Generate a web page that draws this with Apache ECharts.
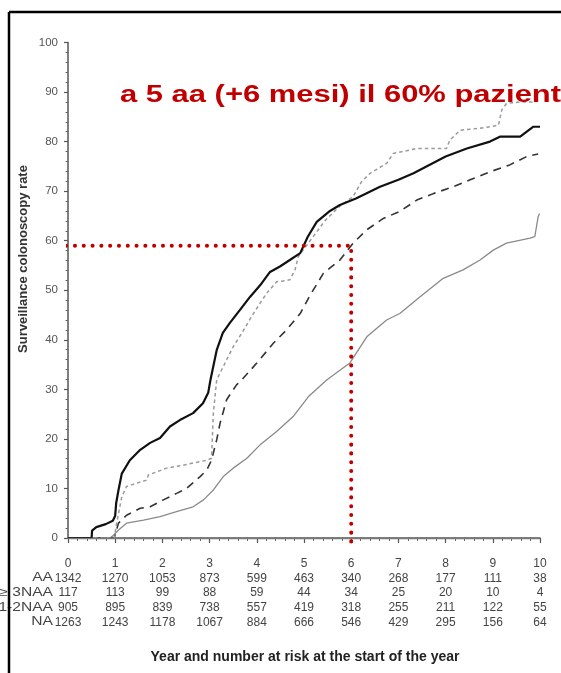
<!DOCTYPE html>
<html>
<head>
<meta charset="utf-8">
<script src="https://cdn.jsdelivr.net/npm/echarts@6/dist/echarts.min.js"></script>
<style>
  html, body { margin: 0; padding: 0; background: #fff; }
  #chart { width: 561px; height: 673px; }
</style>
</head>
<body>
<div id="chart"></div>
<script>
// ---- data ----
const yearTicks = [0, 1, 2, 3, 4, 5, 6, 7, 8, 9, 10];
const groupLabels = ['AA', '\u2265 3NAA', '1-2NAA', 'NA'];
const riskAA    = [1342, 1270, 1053, 873, 599, 463, 340, 268, 177, 111, 38];
const risk3NAA  = [117, 113, 99, 88, 59, 44, 34, 25, 20, 10, 4];
const risk12NAA = [905, 895, 839, 738, 557, 419, 318, 255, 211, 122, 55];
const riskNA    = [1263, 1243, 1178, 1067, 884, 666, 546, 429, 295, 156, 64];

const aaT = [0, 0.5, 0.51, 0.6, 0.8, 0.95, 1.0, 1.02, 1.07, 1.14, 1.31, 1.53, 1.74, 1.95, 2.16, 2.37, 2.65, 2.86, 2.97, 3.02, 3.15, 3.28, 3.43, 3.64, 3.86, 4.07, 4.28, 4.49, 4.70, 4.92, 5.08, 5.27, 5.55, 5.76, 6.1, 6.61, 7.0, 7.32, 8.0, 8.45, 8.94, 9.15, 9.58, 9.72, 9.86, 10.0];
const aaV = [0, 0, 1.5, 2.2, 2.8, 3.5, 4.5, 7, 9.7, 13, 15.7, 17.8, 19.2, 20.2, 22.5, 23.8, 25.2, 27.2, 29.3, 32, 37.9, 41.4, 43.4, 46, 48.7, 51, 53.7, 54.8, 56.1, 57.5, 60.8, 63.8, 66, 67.2, 68.5, 70.9, 72.3, 73.6, 77, 78.6, 80, 81, 81, 82, 83, 83];

const n3T = [0, 0.98, 1.03, 1.14, 1.24, 1.67, 1.7, 2.09, 2.44, 2.94, 3.04, 3.08, 3.15, 3.29, 3.5, 3.68, 3.89, 4.07, 4.21, 4.42, 4.7, 4.81, 4.88, 5.13, 5.44, 5.76, 6.04, 6.22, 6.4, 6.75, 6.89, 7.39, 8.02, 8.09, 8.31, 8.73, 9.12, 9.19, 9.29, 9.58, 9.86];
const n3V = [0, 0, 3, 8.3, 10.4, 11.7, 12.7, 14.1, 14.7, 15.7, 16.1, 25.2, 31.9, 34.6, 38.6, 41.3, 44.7, 47.4, 49.4, 51.7, 52.1, 54.1, 56.8, 60, 64, 67, 68.9, 71.9, 73.6, 75.6, 77.6, 78.6, 78.6, 80.3, 82.3, 82.7, 83.3, 86.4, 87.7, 88, 88];

const n12T = [0, 0.98, 1.07, 1.24, 1.53, 1.74, 2.02, 2.3, 2.51, 2.8, 2.94, 3.04, 3.15, 3.22, 3.36, 3.57, 3.68, 4.0, 4.35, 4.63, 4.92, 5.13, 5.41, 5.76, 6.04, 6.33, 6.68, 7.03, 7.39, 7.74, 8.16, 8.52, 8.94, 9.36, 9.72, 9.96];
const n12V = [0, 0, 3, 4.6, 6, 6.3, 7.7, 9, 10, 12.4, 13.7, 15.7, 19.8, 23.1, 27.9, 30.9, 31.9, 35.3, 39.3, 42, 45.3, 49, 53.4, 56.1, 59.5, 62.2, 64.5, 65.9, 68.2, 69.5, 70.9, 72.3, 73.9, 75.3, 77, 77.5];

const naT = [0, 0.89, 0.97, 1.07, 1.24, 1.6, 1.95, 2.3, 2.65, 2.87, 3.08, 3.29, 3.5, 3.79, 4.07, 4.42, 4.77, 5.09, 5.48, 5.97, 6.33, 6.75, 7.03, 7.46, 7.95, 8.37, 8.73, 9.01, 9.29, 9.79, 9.89, 9.96, 9.99];
const naV = [0, 0, 0.6, 1.6, 3, 3.6, 4.3, 5.3, 6.3, 7.7, 9.7, 12.4, 14.1, 16.1, 18.8, 21.5, 24.5, 28.5, 31.9, 35.3, 40.6, 44, 45.3, 48.7, 52.4, 54.1, 56.1, 58.1, 59.5, 60.5, 60.8, 64.8, 65.5];

const guideT = [-0.04, 6, 6];
const guideV = [59, 59, -1];

const annotation = 'a 5 aa (+6 mesi) il 60% pazienti';
const yTitle = 'Surveillance colonoscopy rate';
const xTitle = 'Year and number at risk at the start of the year';

// ---- chart ----
const zip = (t, v) => t.map((x, i) => [x, v[i]]);
const FONT = '"Liberation Sans", Arial, sans-serif';

const chart = echarts.init(document.getElementById('chart'), null, { renderer: 'canvas' });

const rowY = [578, 592.7, 607.4, 622];
const graphics = [
  { type: 'line', z: 200, shape: { x1: 9, y1: 12, x2: 561, y2: 12 }, style: { stroke: '#000', lineWidth: 2.5 } },
  { type: 'line', z: 200, shape: { x1: 9, y1: 12, x2: 9, y2: 673 }, style: { stroke: '#000', lineWidth: 2.5 } },
  { type: 'rect', z: 150, shape: { x: 548, y: 548, width: 13, height: 90 }, style: { fill: '#fff' } },
  { type: 'text', z: 160, x: 120, y: 95.5, scaleX: 1.345,
    style: { text: annotation, font: 'bold 23px ' + FONT, fill: '#c00000', align: 'left', verticalAlign: 'middle' } },
  { type: 'text', z: 160, x: 23.5, y: 259, rotation: Math.PI / 2,
    style: { text: yTitle, font: 'bold 13px ' + FONT, fill: '#333', align: 'center', verticalAlign: 'middle' } },
  { type: 'text', z: 160, x: 305, y: 657,
    style: { text: xTitle, font: 'bold 14px ' + FONT, fill: '#222', align: 'center', verticalAlign: 'middle' } }
];
groupLabels.forEach((lab, i) => {
  graphics.push({ type: 'text', z: 160, x: 53, y: rowY[i], scaleX: 1.3,
    style: { text: lab, font: '12px ' + FONT, fill: '#444', align: 'right', verticalAlign: 'middle' } });
});

const option = {
  animation: false,
  backgroundColor: '#fff',
  grid: { left: 68, right: 21, top: 42.5, bottom: 135, containLabel: false },
  xAxis: {
    type: 'value', min: 0, max: 10, interval: 1, offset: 5,
    axisLine: { show: true, lineStyle: { color: '#555', width: 1.5 } },
    axisTick: { show: true, length: 5, lineStyle: { color: '#555', width: 1.2 } },
    minorTick: { show: true, splitNumber: 5, length: 3, lineStyle: { color: '#666', width: 1 } },
    splitLine: { show: false },
    axisLabel: {
      margin: 13, fontFamily: FONT, fontSize: 12, color: '#444', lineHeight: 14.8,
      formatter: (v) => {
        const i = yearTicks.indexOf(Math.round(v));
        return [String(yearTicks[i]), riskAA[i], risk3NAA[i], risk12NAA[i], riskNA[i]].join('\n');
      }
    }
  },
  yAxis: {
    type: 'value', min: 0, max: 100, interval: 10, offset: 3,
    axisLine: { show: true, lineStyle: { color: '#555', width: 1.5 } },
    axisTick: { show: true, length: 4, lineStyle: { color: '#555', width: 1.2 } },
    minorTick: { show: true, splitNumber: 5, length: 2.5, lineStyle: { color: '#666', width: 1 } },
    splitLine: { show: false },
    axisLabel: { margin: 7, fontFamily: FONT, fontSize: 11.5, color: '#555' }
  },
  series: [
    {
      name: 'NA', type: 'line', data: zip(naT, naV), showSymbol: false, symbol: 'none',
      lineStyle: { color: '#8a8a8a', width: 1.3 },
      markLine: {
        silent: true, symbol: ['none', 'none'], label: { show: false },
        lineStyle: { color: '#7a7a7a', width: 1.4, type: 'solid' },
        data: [{ yAxis: 0 }]
      }
    },
    {
      name: '1-2NAA', type: 'line', data: zip(n12T, n12V), symbol: 'none',
      lineStyle: { color: '#333', width: 1.6, type: [8, 6] }
    },
    {
      name: '>=3NAA', type: 'line', data: zip(n3T, n3V), symbol: 'none',
      lineStyle: { color: '#9a9a9a', width: 1.5, type: [3.5, 3] }
    },
    {
      name: 'AA', type: 'line', data: zip(aaT, aaV), symbol: 'none',
      lineStyle: { color: '#111', width: 2.2 }
    },
    {
      name: 'guide', type: 'line', data: zip(guideT, guideV), symbol: 'none', clip: false, z: 10,
      lineStyle: { color: '#c00000', width: 4, type: [0.1, 8.7], cap: 'round' }
    }
  ],
  graphic: graphics
};
chart.setOption(option);
</script>
</body>
</html>
